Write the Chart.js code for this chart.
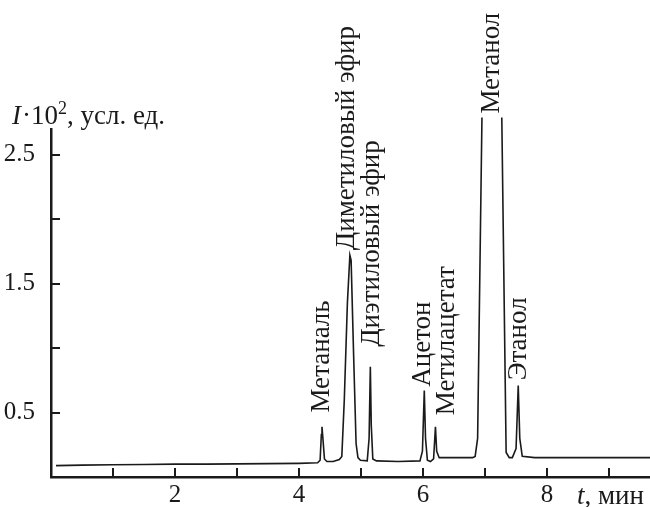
<!DOCTYPE html>
<html>
<head>
<meta charset="utf-8">
<script src="https://cdn.jsdelivr.net/npm/chart.js@4.4.1/dist/chart.umd.min.js"></script>
<style>
  body { margin: 0; background: #fff; }
  canvas { display: block; }
</style>
</head>
<body>
<canvas id="chart" width="650" height="507"></canvas>
<script>
// chromatogram: time (min) and signal (I*10^2)
const times = [0.08, 0.5, 1.0, 1.5, 2.0, 2.5, 3.0, 3.5, 4.0, 4.3, 4.34, 4.36, 4.37, 4.385, 4.41, 4.45,
  4.55, 4.65, 4.69, 4.73, 4.78, 4.82, 4.84, 4.88, 4.92, 4.95, 4.99, 5.1, 5.13, 5.15, 5.165, 5.19,
  5.25, 5.6, 5.95, 5.99, 6.02, 6.04, 6.07, 6.12, 6.17, 6.2, 6.22, 6.26, 6.5, 6.8, 6.84, 6.88,
  6.95, 7.1, 7.27, 7.34, 7.39, 7.44, 7.5, 7.535, 7.56, 7.6, 7.8, 8.5, 9.2, 9.7];
const signal = [0.088, 0.092, 0.095, 0.097, 0.1, 0.1, 0.102, 0.104, 0.106, 0.11, 0.13, 0.33, 0.39, 0.3, 0.14, 0.12,
  0.12, 0.135, 0.16, 0.6, 1.35, 1.72, 1.68, 0.95, 0.26, 0.15, 0.13, 0.125, 0.3, 0.855, 0.4, 0.14,
  0.125, 0.12, 0.125, 0.2, 0.67, 0.3, 0.13, 0.12, 0.14, 0.39, 0.2, 0.15, 0.15, 0.15, 0.16, 0.3,
  2.79, null, 2.79, 0.19, 0.15, 0.15, 0.22, 0.71, 0.3, 0.16, 0.15, 0.15, 0.15, 0.15];

// peak labels: name, time of label, signal level where the text starts
const peakNames = ['Метаналь', 'Диметиловый эфир', 'Диэтиловый эфир', 'Ацетон', 'Метилацетат', 'Метанол', 'Этанол'];
const peakLabelT = [4.37, 4.77, 5.17, 5.99, 6.38, 7.11, 7.55];
const peakLabelI = [0.5, 1.76, 1.01, 0.70, 0.48, 2.82, 0.75];

const xTickValues = [1, 2, 3, 4, 5, 6, 7, 8, 9];
const xTickLabels = ['', '2', '', '4', '', '6', '', '8', ''];
const yTickValues = [0.5, 1, 1.5, 2, 2.5];
const yTickLabels = ['0.5', '', '1.5', '', '2.5'];

const SERIF = "'Liberation Serif', 'Times New Roman', serif";
const INK = '#1a1a1a';

const points = times.map((t, i) => ({ x: t, y: signal[i] }));

const decorations = {
  id: 'decorations',
  afterDraw(chart) {
    const ctx = chart.ctx;
    const x = chart.scales.x, y = chart.scales.y;
    const area = chart.chartArea;
    ctx.save();

    // inward tick marks
    ctx.strokeStyle = INK;
    ctx.lineWidth = 2;
    ctx.beginPath();
    xTickValues.forEach(v => {
      const px = Math.round(x.getPixelForValue(v));
      ctx.moveTo(px, area.bottom);
      ctx.lineTo(px, area.bottom - 9);
    });
    yTickValues.forEach(v => {
      const py = Math.round(y.getPixelForValue(v));
      ctx.moveTo(area.left, py);
      ctx.lineTo(area.left + 9, py);
    });
    ctx.stroke();

    // peak names, vertical
    ctx.fillStyle = INK;
    ctx.font = '27px ' + SERIF;
    ctx.textAlign = 'left';
    ctx.textBaseline = 'middle';
    peakNames.forEach((name, i) => {
      ctx.save();
      ctx.translate(x.getPixelForValue(peakLabelT[i]), y.getPixelForValue(peakLabelI[i]));
      ctx.rotate(-Math.PI / 2);
      ctx.fillText(name, 0, 0);
      ctx.restore();
    });

    // y axis title
    ctx.textBaseline = 'alphabetic';
    let cx = 12;
    const by = 124;
    ctx.font = 'italic 27px ' + SERIF;
    ctx.fillText('I', cx, by);
    cx += ctx.measureText('I').width + 1;
    ctx.font = '27px ' + SERIF;
    ctx.fillText('·10', cx, by);
    cx += ctx.measureText('·10').width;
    ctx.font = '18px ' + SERIF;
    ctx.fillText('2', cx, by - 10);
    cx += ctx.measureText('2').width;
    ctx.font = '27px ' + SERIF;
    ctx.fillText(', усл. ед.', cx, by);

    // x axis title
    cx = 577;
    ctx.font = 'italic 27px ' + SERIF;
    ctx.fillText('t', cx, 504);
    cx += ctx.measureText('t').width;
    ctx.font = '27px ' + SERIF;
    ctx.fillText(', мин', cx, 504);

    ctx.restore();
  }
};

new Chart(document.getElementById('chart'), {
  type: 'line',
  data: {
    datasets: [{
      data: points,
      borderColor: INK,
      borderWidth: 1.6,
      pointRadius: 0,
      tension: 0,
      spanGaps: false,
      clip: false
    }]
  },
  options: {
    responsive: false,
    animation: false,
    layout: { padding: { top: 129, right: 0, left: 0, bottom: 0 } },
    plugins: { legend: { display: false }, tooltip: { enabled: false } },
    scales: {
      x: {
        type: 'linear',
        min: 0,
        max: 9.66,
        afterBuildTicks: s => { s.ticks = xTickValues.map(v => ({ value: v })); },
        afterFit: s => { s.height = 30; },
        grid: { display: false },
        border: { display: true, color: INK, width: 2.5 },
        ticks: {
          padding: -5,
          color: INK,
          font: { family: SERIF, size: 25 },
          maxRotation: 0,
          autoSkip: false,
          callback: (v, i) => xTickLabels[i]
        }
      },
      y: {
        type: 'linear',
        min: 0,
        max: 2.7,
        afterBuildTicks: s => { s.ticks = yTickValues.map(v => ({ value: v })); },
        afterFit: s => { s.width = 51; },
        grid: { display: false },
        border: { display: true, color: INK, width: 2.5 },
        ticks: {
          padding: 8,
          color: INK,
          font: { family: SERIF, size: 25 },
          autoSkip: false,
          callback: (v, i) => yTickLabels[i]
        }
      }
    }
  },
  plugins: [decorations]
});
</script>
</body>
</html>
